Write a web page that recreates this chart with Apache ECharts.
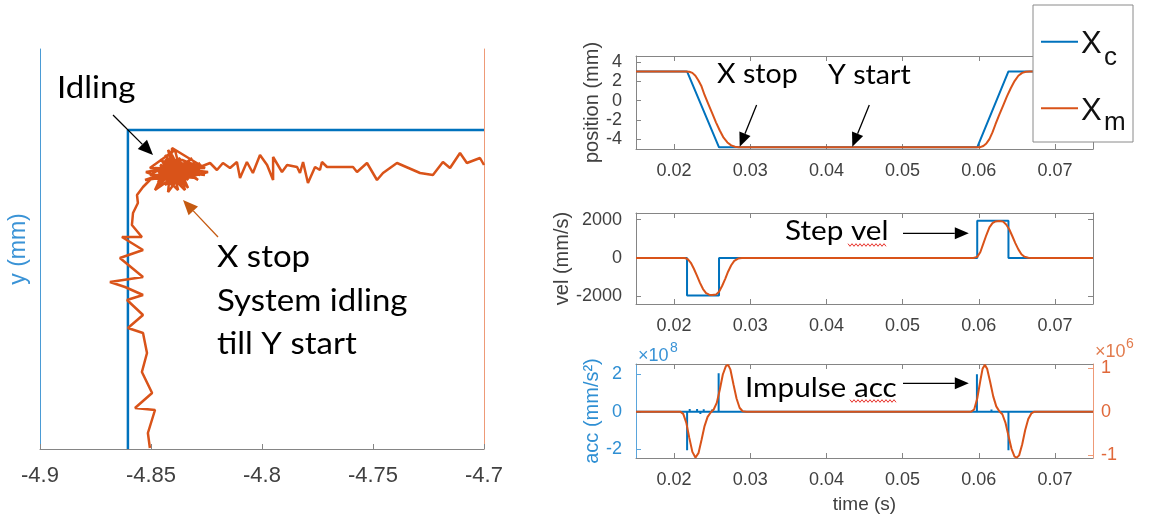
<!DOCTYPE html>
<html><head><meta charset="utf-8">
<script src="https://cdn.jsdelivr.net/npm/echarts@6/dist/echarts.min.js"></script>
<style>html,body{margin:0;padding:0;background:#fff}#c{width:1169px;height:521px}</style>
</head><body><div id="c"></div>
<script>
// ---------------- data ----------------
// Left panel: x-y path (mm)
const xyCmdX = [-4.8604, -4.8604, -4.7];
const xyCmdY = [0, 0.319, 0.319];
const xyMeasX = [
 -4.8505,-4.8514,-4.8482,-4.8572,-4.8495,-4.8541,-4.8518,-4.8536,-4.8604,-4.8536,-4.8608,-4.8536,-4.8617,-4.8685,-4.8536,-4.8640,-4.8536,-4.8631,-4.8541,-4.8586,-4.8581,-4.8559,-4.8563,-4.8536,-4.8505,
 -4.8468,-4.8369,-4.8437,-4.8324,-4.8505,-4.8392,-4.8347,-4.8459,-4.8279,-4.8414,-4.8482,-4.8302,-4.8378,-4.8446,-4.8257,-4.8405,-4.8423,-4.8333,-4.8523,-4.8360,-4.8387,-4.8288,-4.8459,-4.8347,-4.8414,-4.8315,-4.8468,-4.8243,-4.8392,-4.8437,-4.8333,-4.8369,-4.8495,-4.8297,-4.8414,-4.8347,-4.8279,-4.8378,-4.8324,
 -4.8437,-4.8392,-4.8459,-4.8347,-4.8414,-4.8369,-4.8505,-4.8302,-4.8405,-4.8450,-4.8333,-4.8423,-4.8378,-4.8482,-4.8279,-4.8392,-4.8437,-4.8324,-4.8527,-4.8360,-4.8405,-4.8468,-4.8342,-4.8414,-4.8297,-4.8446,-4.8369,-4.8387,-4.8423,-4.8315,-4.8482,-4.8392,-4.8347,-4.8459,-4.8257,-4.8378,-4.8414,-4.8333,-4.8437,-4.8360,
 -4.8279,-4.8234,-4.8203,-4.8176,-4.8144,-4.8113,-4.8099,-4.8068,-4.8041,-4.8009,-4.7977,-4.7950,-4.7950,-4.7910,-4.7887,-4.7842,-4.7829,-4.7815,-4.7793,-4.7761,-4.7739,-4.7730,-4.7707,-4.7590,-4.7572,-4.7527,-4.7482,-4.7455,-4.7392,-4.7288,-4.7230,-4.7185,-4.7153,-4.7108,-4.7077,-4.7018,-4.7000];
const xyMeasY = [
 0.001,0.016,0.039,0.041,0.056,0.077,0.096,0.116,0.121,0.134,0.149,0.154,0.162,0.167,0.172,0.191,0.199,0.212,0.212,0.224,0.236,0.246,0.254,0.262,0.269,
 0.273,0.289,0.264,0.279,0.281,0.299,0.259,0.284,0.274,0.291,0.259,0.287,0.269,0.279,0.281,0.301,0.257,0.284,0.277,0.264,0.287,0.269,0.289,0.277,0.271,0.291,0.264,0.277,0.281,0.294,0.261,0.279,0.271,0.281,0.284,0.271,0.286,0.274,0.277,
 0.271,0.284,0.277,0.281,0.264,0.291,0.274,0.274,0.279,0.287,0.269,0.299,0.259,0.281,0.279,0.274,0.289,0.284,0.269,0.274,0.294,0.267,0.287,0.277,0.271,0.274,0.284,0.266,0.284,0.279,0.271,0.289,0.264,0.279,0.274,0.281,0.269,0.277,0.281,0.289,
 0.282,0.286,0.279,0.286,0.281,0.287,0.271,0.287,0.276,0.294,0.284,0.269,0.292,0.277,0.284,0.282,0.276,0.287,0.266,0.282,0.279,0.287,0.282,0.282,0.277,0.286,0.269,0.276,0.286,0.276,0.274,0.287,0.281,0.296,0.286,0.291,0.284];

// Right panels: time (s)
const posCmdT = [0.015, 0.0217, 0.0259, 0.0598, 0.0639, 0.075];
const posCmd  = [3.05, 3.05, -4.86, -4.86, 3.05, 3.05];
const posMeasT = [0.015,0.0214,0.0220,0.0224,0.0228,0.0232,0.0236,0.0240,0.0245,0.0250,0.0255,0.0260,0.0265,0.0270,0.0275,0.0280,0.0285,0.0290,
                  0.0598,0.0602,0.0606,0.0610,0.0614,0.0618,0.0622,0.0627,0.0632,0.0637,0.0642,0.0647,0.0652,0.0657,0.0662,0.0667,0.075];
const posMeas  = [3.05,3.05,3.02,2.9,2.6,2.1,1.5,0.6,-0.35,-1.3,-2.25,-3.1,-3.85,-4.35,-4.65,-4.79,-4.84,-4.86,
                  -4.86,-4.84,-4.72,-4.45,-4.0,-3.3,-2.45,-1.45,-0.5,0.45,1.3,2.05,2.6,2.9,3.02,3.05,3.05];

const velCmdT = [0.015,0.0217,0.0217,0.0259,0.0259,0.0598,0.0598,0.0639,0.0639,0.075];
const velCmd  = [0,0,-1950,-1950,0,0,1950,1950,0,0];
const velMeasT = [0.015,0.0214,0.0218,0.0222,0.0226,0.0230,0.0234,0.0238,0.0242,0.0246,0.0250,0.0255,0.0259,0.0263,0.0267,0.0271,0.0275,0.0279,0.0284,0.0289,
                  0.0593,0.0598,0.0602,0.0606,0.0610,0.0614,0.0618,0.0622,0.0627,0.0632,0.0636,0.0640,0.0644,0.0648,0.0652,0.0656,0.0660,0.0665,0.0670,0.075];
const velMeas  = [0,0,-60,-250,-560,-920,-1300,-1620,-1830,-1915,-1930,-1910,-1760,-1460,-1100,-700,-380,-150,-30,0,
                  0,60,300,750,1200,1600,1820,1910,1930,1900,1750,1500,1150,780,450,200,70,10,0,0];

// acceleration: command in x1e8 mm/s^2 (left axis), measured in x1e6 mm/s^2 (right axis)
const accCmdT = [0.015,0.02171,0.02171,0.02171,0.02205,0.02205,0.02205,0.02302,0.02302,0.02302,0.02345,0.02345,0.02345,0.02389,0.02389,0.02389,0.02499,0.02499,0.02499,0.02585,0.02585,0.02585,
                 0.05976,0.05976,0.05976,0.06167,0.06167,0.06167,0.0639,0.0639,0.0639,0.075];
const accCmd  = [0,0,-2.05,0,0,0.14,0,0,0.14,0,0,-0.12,0,0,0.13,0,0,0.12,0,0,2.05,0,
                 0,2.0,0,0,0.12,0,0,-2.05,0,0];
const accMeasT = [0.015,0.0208,0.0212,0.0216,0.0220,0.0224,0.0228,0.0232,0.0236,0.0240,0.0244,0.0248,0.0252,0.0256,0.0260,0.0264,0.0268,0.0271,0.0274,0.0278,0.0282,0.0286,0.0290,0.0295,
                  0.0590,0.0594,0.0598,0.0602,0.0605,0.0608,0.0611,0.0615,0.0619,0.0623,0.0627,0.0631,0.0635,0.0639,0.0643,0.0647,0.0650,0.0653,0.0657,0.0661,0.0665,0.0669,0.0673,0.075];
const accMeas  = [0,0,-0.05,-0.25,-0.6,-0.92,-1.05,-0.95,-0.65,-0.33,-0.12,-0.02,0.05,0.2,0.5,0.85,1.04,1.07,0.96,0.62,0.3,0.09,0.01,0,
                  0,0.05,0.3,0.7,0.98,1.07,0.98,0.68,0.35,0.12,0.01,-0.06,-0.25,-0.55,-0.85,-1.03,-1.05,-1.0,-0.75,-0.42,-0.17,-0.04,0,0];

// tick labels
const xyTicks = [-4.9, -4.85, -4.8, -4.75, -4.7];
const timeTicks = [0.02, 0.03, 0.04, 0.05, 0.06, 0.07];
const posTicks = [-4, -2, 0, 2, 4];
const velTicks = [-2000, 0, 2000];
const accTicksL = [-2, 0, 2];
const accTicksR = [-1, 0, 1];

// ---------------- build ----------------
const zip = (a, b) => a.map((v, i) => [v, b[i]]);
const BLUE = '#0072BD', ORANGE = '#D95319', GRAY = '#858585', LBL = '#404040';
const FONT = '"Liberation Sans", Arial, sans-serif';
const plain = v => String(v);

function tAxis(gi, pos, show, extra) {
  return Object.assign({
    type: 'value', gridIndex: gi, position: pos, min: 0.015, max: 0.075,
    axisLine: { show: true, onZero: false, lineStyle: { color: GRAY, width: 1 } },
    axisTick: { show: true, inside: true, length: 5, customValues: timeTicks, lineStyle: { color: GRAY } },
    axisLabel: { show: show, customValues: timeTicks, formatter: plain, margin: 13, fontSize: 18, color: LBL, fontFamily: FONT },
    splitLine: { show: false }
  }, extra || {});
}
function yAx(gi, pos, min, max, ticks, show, color, lineColor, extra) {
  return Object.assign({
    type: 'value', gridIndex: gi, position: pos, min: min, max: max,
    axisLine: { show: true, onZero: false, lineStyle: { color: lineColor, width: 1 } },
    axisTick: { show: !!ticks, inside: true, length: 5, customValues: ticks || [], lineStyle: { color: lineColor } },
    axisLabel: { show: show, customValues: ticks || [], formatter: plain, margin: pos === 'left' ? 14 : 8, fontSize: 18, color: color, fontFamily: FONT },
    splitLine: { show: false }
  }, extra || {});
}

const line = (name, xi, yi, data, color, w) => ({
  name: name, type: 'line', xAxisIndex: xi, yAxisIndex: yi, data: data,
  showSymbol: false, symbol: 'none', lineStyle: { color: color, width: w || 2 }, itemStyle: { color: color },
  animation: false, z: color === ORANGE ? 3 : 2
});

function arrow(x1, y1, x2, y2, color, lw, hl, hw) {
  const dx = x2 - x1, dy = y2 - y1, L = Math.hypot(dx, dy), ux = dx / L, uy = dy / L;
  const bx = x2 - ux * hl, by = y2 - uy * hl, nx = -uy, ny = ux;
  return [
    { type: 'line', z: 50, shape: { x1: x1, y1: y1, x2: bx, y2: by }, style: { stroke: color, lineWidth: lw } },
    { type: 'polygon', z: 50, shape: { points: [[x2, y2], [bx + nx * hw, by + ny * hw], [bx - nx * hw, by - ny * hw]] }, style: { fill: color } }
  ];
}
function txt(s, x, y, size, color, sx, fam, align) {
  return { type: 'text', x: x, y: y, scaleX: sx || 1, z: 50,
    style: { text: s, x: 0, y: 0, fontSize: size, fontFamily: fam || 'Lato', fill: color, textAlign: align || 'left', textVerticalAlign: 'middle', verticalAlign: 'middle' } };
}
function wavy(x1, x2, y) {
  const pts = [];
  for (let x = x1, k = 0; x <= x2; x += 2, k++) pts.push([x, y + (k % 2 ? 1.3 : -1.3)]);
  return { type: 'polyline', z: 50, shape: { points: pts }, style: { stroke: '#e8322a', lineWidth: 1, fill: null } };
}

const graphics = [].concat(
  // left panel annotations
  txt('Idling', 57, 88.5, 30, '#000', 1.1),
  arrow(113, 115, 153, 155, '#000', 1.3, 15, 6.5),
  arrow(218, 237, 183, 200, '#C55A11', 1.3, 15, 6.5),
  txt('X stop', 217, 257.5, 30, '#000', 1.1),
  txt('System idling', 217, 301.5, 30, '#000', 1.1),
  txt('till Y start', 217, 344.5, 30, '#000', 1.1),
  // right annotations
  txt('X stop', 717, 75, 26, '#000', 1.1),
  txt('Y start', 828, 76, 26, '#000', 1.1),
  arrow(756.6, 105, 739.7, 146.7, '#000', 1.3, 14, 6),
  arrow(869.3, 105, 852.3, 146.7, '#000', 1.3, 14, 6),
  txt('Step vel', 785, 231, 27, '#000', 1.1),
  wavy(848, 886, 245),
  arrow(903, 233.3, 968.8, 233.3, '#000', 1.3, 14, 6),
  txt('Impulse acc', 745, 388, 27, '#000', 1.1),
  wavy(850, 897, 401),
  arrow(903, 383.3, 968.8, 383.3, '#000', 1.3, 14, 6),
  // exponents
  txt('\u00d710', 638, 356, 18, '#3a93d6', 1, FONT),
  txt('8', 670, 348, 14, '#3a93d6', 1, FONT),
  txt('\u00d710', 1095, 352, 18, '#e27c4e', 1, FONT),
  txt('6', 1126, 344, 14, '#e27c4e', 1, FONT),
  // legend box
  [{ type: 'rect', z: 90, shape: { x: 1033, y: 5, width: 100, height: 137 }, style: { fill: '#fff', stroke: '#8a8a8a', lineWidth: 1 } },
   { type: 'line', z: 91, shape: { x1: 1041, y1: 41.7, x2: 1078, y2: 41.7 }, style: { stroke: BLUE, lineWidth: 2 } },
   { type: 'line', z: 91, shape: { x1: 1041, y1: 108.3, x2: 1078, y2: 108.3 }, style: { stroke: ORANGE, lineWidth: 2 } }],
  Object.assign(txt('X', 1081, 44, 31, '#111', 1, FONT), { z: 92 }),
  Object.assign(txt('c', 1104, 58, 26, '#111', 1, FONT), { z: 92 }),
  Object.assign(txt('X', 1081, 111, 31, '#111', 1, FONT), { z: 92 }),
  Object.assign(txt('m', 1104, 123, 26, '#111', 1, FONT), { z: 92 })
);

const option = {
  animation: false,
  backgroundColor: '#fff',
  textStyle: { fontFamily: FONT },
  grid: [
    { left: 40, top: 49, width: 444, height: 400 },
    { left: 636, top: 56, width: 457, height: 93 },
    { left: 636, top: 213, width: 457, height: 91 },
    { left: 636, top: 364, width: 457, height: 94 }
  ],
  xAxis: [
    { type: 'value', gridIndex: 0, position: 'bottom', min: -4.9, max: -4.7,
      axisLine: { show: true, onZero: false, lineStyle: { color: GRAY, width: 1 } },
      axisTick: { show: true, inside: true, length: 5, customValues: xyTicks, lineStyle: { color: GRAY } },
      axisLabel: { customValues: xyTicks, formatter: plain, margin: 16, fontSize: 22, color: LBL, fontFamily: FONT },
      splitLine: { show: false } },
    tAxis(1, 'bottom', true), tAxis(1, 'top', false),
    tAxis(2, 'bottom', true), tAxis(2, 'top', false),
    tAxis(3, 'bottom', true, { name: 'time (s)', nameLocation: 'middle', nameGap: 37,
      nameTextStyle: { fontSize: 19, color: LBL, fontFamily: FONT } }),
    tAxis(3, 'top', false)
  ],
  yAxis: [
    yAx(0, 'left', 0, 0.4, null, false, BLUE, '#4a9bd5', { name: 'y (mm)', nameLocation: 'middle', nameGap: 10,
      nameTextStyle: { fontSize: 23, color: '#3a93d6', fontFamily: FONT } }),
    yAx(0, 'right', 0, 0.4, null, false, ORANGE, '#ee9a77'),
    yAx(1, 'left', -5.03, 4.66, posTicks, true, LBL, GRAY, { name: 'position (mm)', nameLocation: 'middle', nameGap: 28,
      nameTextStyle: { fontSize: 20, color: LBL, fontFamily: FONT } }),
    yAx(1, 'right', -5.03, 4.66, posTicks, false, LBL, GRAY),
    yAx(2, 'left', -2400, 2350, velTicks, true, LBL, GRAY, { name: 'vel (mm/s)', nameLocation: 'middle', nameGap: 28,
      nameTextStyle: { fontSize: 20, color: LBL, fontFamily: FONT } }),
    yAx(2, 'right', -2400, 2350, velTicks, false, LBL, GRAY),
    yAx(3, 'left', -2.46, 2.54, accTicksL, true, '#2f8fd3', '#5aa5dc', { name: 'acc (mm/s\u00b2)', nameLocation: 'middle', nameGap: 28,
      nameTextStyle: { fontSize: 20, color: '#2f8fd3', fontFamily: FONT } }),
    yAx(3, 'right', -1.06, 1.09, accTicksR, true, '#e0683a', '#ee9a77')
  ],
  series: [
    line('xy cmd', 0, 0, zip(xyCmdX, xyCmdY), BLUE, 2.5),
    line('xy meas', 0, 0, zip(xyMeasX, xyMeasY), ORANGE, 2.5),
    line('pos cmd', 1, 2, zip(posCmdT, posCmd), BLUE),
    line('pos meas', 1, 2, zip(posMeasT, posMeas), ORANGE),
    line('vel cmd', 3, 4, zip(velCmdT, velCmd), BLUE),
    line('vel meas', 3, 4, zip(velMeasT, velMeas), ORANGE),
    line('acc cmd', 5, 6, zip(accCmdT, accCmd), BLUE),
    line('acc meas', 5, 7, zip(accMeasT, accMeas), ORANGE)
  ],
  graphic: graphics
};

const chart = echarts.init(document.getElementById('c'), null, { renderer: 'canvas' });
chart.setOption(option);
</script>
</body></html>
